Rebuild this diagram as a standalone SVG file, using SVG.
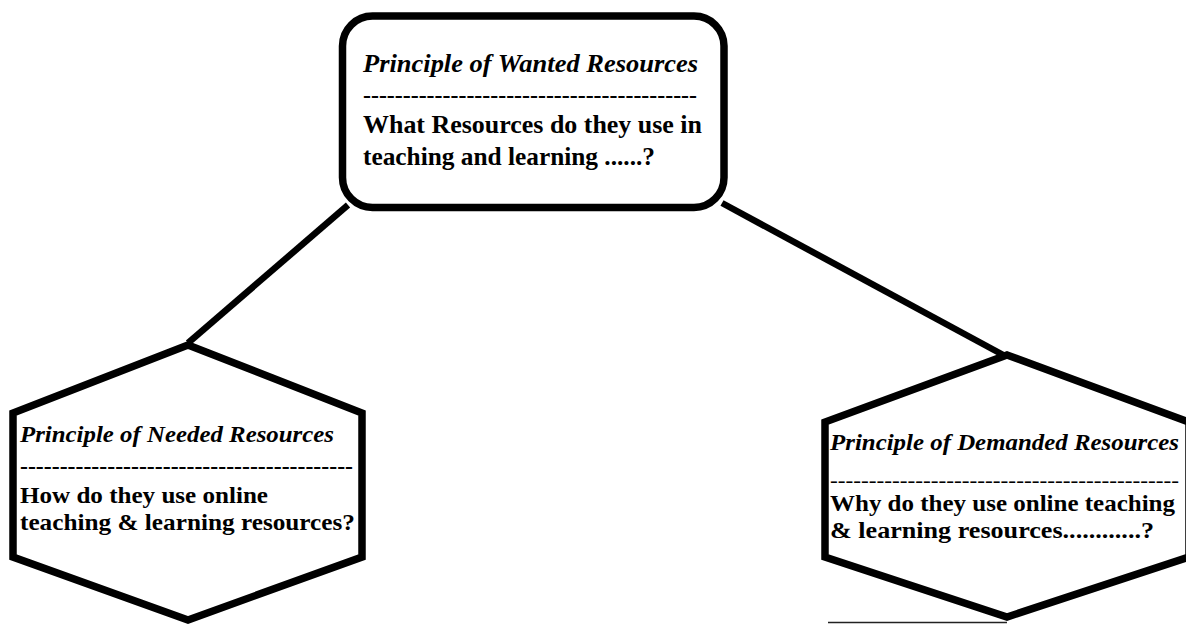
<svg xmlns="http://www.w3.org/2000/svg" width="1186" height="624" viewBox="0 0 1186 624">
  <style>
    .shape { fill: #ffffff; stroke: #000000; stroke-width: 7.5; stroke-linejoin: miter; }
    .link { stroke: #000000; stroke-width: 6.5; fill: none; }
    .title { font-family: "Liberation Serif", "Times New Roman", serif; font-weight: bold; font-style: italic; fill: #000000; }
    .body { font-family: "Liberation Serif", "Times New Roman", serif; font-weight: bold; fill: #000000; }
    .rule { font-family: "Liberation Serif", "Times New Roman", serif; fill: #000000; }
  </style>
  <rect width="1186" height="624" fill="#ffffff"/>

  <!-- connectors -->
  <g id="connectors">
    <line class="link" x1="348" y1="205" x2="188" y2="343"/>
    <line class="link" x1="722" y1="203" x2="1007" y2="357"/>
  </g>

  <!-- top node -->
  <g id="wanted">
    <rect class="shape" x="342.5" y="16" width="381.5" height="191.5" rx="30" ry="30"/>
    <text class="title" x="363" y="72" font-size="25" textLength="335" lengthAdjust="spacingAndGlyphs">Principle of Wanted Resources</text>
    <text class="rule" x="363" y="103" font-size="24" font-weight="bold" textLength="334" lengthAdjust="spacingAndGlyphs">------------------------------------------</text>
    <text class="body" x="363" y="133" font-size="26" textLength="339" lengthAdjust="spacingAndGlyphs">What Resources do they use in</text>
    <text class="body" x="363" y="165" font-size="26" textLength="292" lengthAdjust="spacingAndGlyphs">teaching and learning ......?</text>
  </g>

  <!-- left node -->
  <g id="needed">
    <polygon class="shape" points="188,345 362,413 362,557 188,620 13,557 13,413"/>
    <text class="title" x="20" y="442" font-size="23" textLength="314" lengthAdjust="spacingAndGlyphs">Principle of Needed Resources</text>
    <text class="rule" x="20" y="474" font-size="23" font-weight="bold" textLength="333" lengthAdjust="spacingAndGlyphs">------------------------------------------</text>
    <text class="body" x="20" y="503" font-size="24" textLength="248" lengthAdjust="spacingAndGlyphs">How do they use online</text>
    <text class="body" x="20" y="530" font-size="24" textLength="335" lengthAdjust="spacingAndGlyphs">teaching &amp; learning resources?</text>
  </g>

  <!-- right node -->
  <g id="demanded">
    <polygon class="shape" points="1007,355 1189,422 1189,557 1007,617 825,557 825,422"/>
    <text class="title" x="830" y="450" font-size="23" textLength="349" lengthAdjust="spacingAndGlyphs">Principle of Demanded Resources</text>
    <text class="rule" x="830" y="487" font-size="21" textLength="349" lengthAdjust="spacingAndGlyphs">---------------------------------------------</text>
    <text class="body" x="830" y="511" font-size="24" textLength="345" lengthAdjust="spacingAndGlyphs">Why do they use online teaching</text>
    <text class="body" x="830" y="538" font-size="24" textLength="324" lengthAdjust="spacingAndGlyphs">&amp; learning resources............?</text>
  </g>

  <!-- thin baseline stroke under the right node -->
  <line x1="828" y1="622.5" x2="1007" y2="622.5" stroke="#222222" stroke-width="1.5"/>
</svg>
